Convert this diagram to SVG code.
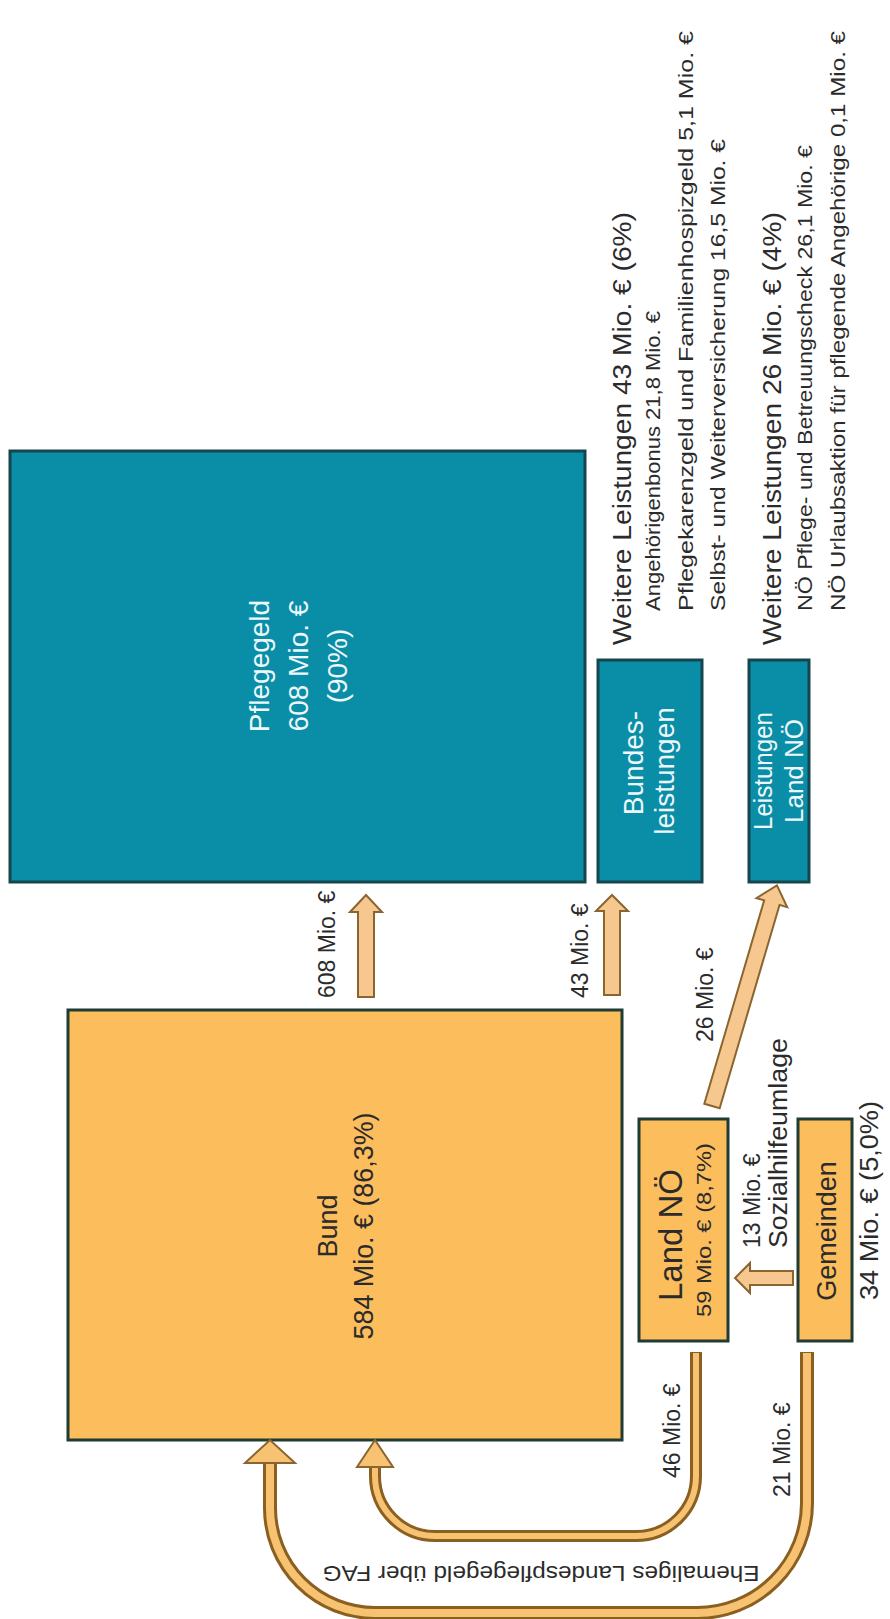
<svg xmlns="http://www.w3.org/2000/svg" width="890" height="1619" viewBox="0 0 890 1619">
<style>
text{font-family:"Liberation Sans",Arial,sans-serif}
.teal{fill:#0a8ea8;stroke:#17454d;stroke-width:3}
.org{fill:#fcbe5d;stroke:#1f3b33;stroke-width:3}
.wt{fill:#eef8fa}
.dk{fill:#2b2b2b}
.arr{fill:#f6c890;stroke:#8a6530;stroke-width:2;stroke-linejoin:miter}
.head{fill:#f7c272;stroke:#8a6530;stroke-width:2}
.tubeO{fill:none;stroke:#8a5f1f}
.tubeI{fill:none;stroke:#f7c272}
</style>
<rect width="890" height="1619" fill="#ffffff"/>

<g id="pflegegeld">
<rect class="teal" x="10" y="451" width="575" height="431"/>
<text class="wt" font-size="28" text-anchor="middle" transform="translate(269,666) rotate(-90)">Pflegegeld</text>
<text class="wt" font-size="28" text-anchor="middle" transform="translate(308,666) rotate(-90)">608 Mio. €</text>
<text class="wt" font-size="28" text-anchor="middle" transform="translate(347,666) rotate(-90)">(90%)</text>
</g>

<g id="bundesleistungen">
<rect class="teal" x="598" y="660" width="104" height="222"/>
<text class="wt" font-size="28" text-anchor="middle" transform="translate(643,763) rotate(-90)">Bundes-</text>
<text class="wt" font-size="28" text-anchor="middle" transform="translate(674,771) rotate(-90)">leistungen</text>
</g>

<g id="leistungen-land">
<rect class="teal" x="749" y="660" width="60" height="222"/>
<text class="wt" font-size="26" text-anchor="middle" transform="translate(772,771) rotate(-90)" textLength="118" lengthAdjust="spacingAndGlyphs">Leistungen</text>
<text class="wt" font-size="26" text-anchor="middle" transform="translate(803,771) rotate(-90)">Land NÖ</text>
</g>

<g id="bund">
<rect class="org" x="68" y="1010" width="554" height="430"/>
<text class="dk" font-size="27" text-anchor="middle" transform="translate(337,1226) rotate(-90)">Bund</text>
<text class="dk" font-size="27" text-anchor="middle" transform="translate(373,1226) rotate(-90)" textLength="227" lengthAdjust="spacingAndGlyphs">584 Mio. € (86,3%)</text>
</g>

<g id="land-noe">
<rect class="org" x="639" y="1119" width="89" height="222"/>
<text class="dk" font-size="33" text-anchor="middle" transform="translate(682,1235) rotate(-90)">Land NÖ</text>
<text class="dk" font-size="21" text-anchor="middle" transform="translate(711,1230) rotate(-90)" textLength="174" lengthAdjust="spacingAndGlyphs">59 Mio. € (8,7%)</text>
</g>

<g id="gemeinden">
<rect class="org" x="798" y="1119" width="54" height="222"/>
<text class="dk" font-size="27" text-anchor="middle" transform="translate(836,1231) rotate(-90)">Gemeinden</text>
</g>

<g id="weitere-bund">
<text class="dk" font-size="26" transform="translate(631,645) rotate(-90)" textLength="433" lengthAdjust="spacingAndGlyphs">Weitere Leistungen 43 Mio.  € (6%)</text>
<text class="dk" font-size="21" transform="translate(660,611) rotate(-90)" textLength="300" lengthAdjust="spacingAndGlyphs">Angehörigenbonus 21,8 Mio. €</text>
<text class="dk" font-size="21" transform="translate(693,611) rotate(-90)" textLength="580" lengthAdjust="spacingAndGlyphs">Pflegekarenzgeld und Familienhospizgeld 5,1 Mio. €</text>
<text class="dk" font-size="21" transform="translate(725,611) rotate(-90)" textLength="472" lengthAdjust="spacingAndGlyphs">Selbst- und Weiterversicherung 16,5 Mio. €</text>
</g>

<g id="weitere-land">
<text class="dk" font-size="26" transform="translate(781,645) rotate(-90)" textLength="433" lengthAdjust="spacingAndGlyphs">Weitere Leistungen 26 Mio.  € (4%)</text>
<text class="dk" font-size="21" transform="translate(812,611) rotate(-90)" textLength="466" lengthAdjust="spacingAndGlyphs">NÖ Pflege- und Betreuungscheck 26,1 Mio. €</text>
<text class="dk" font-size="21" transform="translate(845,611) rotate(-90)" textLength="580" lengthAdjust="spacingAndGlyphs">NÖ Urlaubsaktion für pflegende Angehörige 0,1 Mio. €</text>
</g>

<g id="connectors">
<polygon class="arr" points="358,997 358,912 350,912 366,895 382,912 374,912 374,997"/>
<text class="dk" font-size="23" transform="translate(335,998) rotate(-90)">608 Mio. €</text>

<polygon class="arr" points="604,995 604,911 596,911 612,895 628,911 620,911 620,995"/>
<text class="dk" font-size="23" transform="translate(588,998) rotate(-90)">43 Mio. €</text>

<polygon class="arr" transform="translate(712,1106) rotate(16.4)" points="-8,0 -8,-212 -16,-212 0,-230 16,-212 8,-212 8,0"/>
<text class="dk" font-size="23" transform="translate(713,1042) rotate(-90)">26 Mio. €</text>

<polygon class="arr" points="793,1271 750,1271 750,1263 735,1278 750,1293 750,1285 793,1285"/>
<text class="dk" font-size="23" transform="translate(760,1248) rotate(-90)">13 Mio. €</text>
<text class="dk" font-size="25" transform="translate(787,1248) rotate(-90)" textLength="210" lengthAdjust="spacingAndGlyphs">Sozialhilfeumlage</text>
<text class="dk" font-size="26" transform="translate(878,1300) rotate(-90)" textLength="199" lengthAdjust="spacingAndGlyphs">34 Mio. € (5,0%)</text>

<path class="tubeO" stroke-width="12" d="M696,1352 L696,1476 A60,60 0 0 1 636,1536 L435,1536 A60,60 0 0 1 375,1476 L375,1465"/>
<path class="tubeI" stroke-width="6" d="M696,1353 L696,1476 A60,60 0 0 1 636,1536 L435,1536 A60,60 0 0 1 375,1476 L375,1462"/>
<polygon class="head" points="357,1467 375,1440 393,1467"/>
<text class="dk" font-size="23" transform="translate(680,1478) rotate(-90)">46 Mio. €</text>

<path class="tubeO" stroke-width="14" d="M807,1352 L807,1503 A110,110 0 0 1 697,1613 L375,1613 A105,105 0 0 1 270,1508 L270,1461"/>
<path class="tubeI" stroke-width="8" d="M807,1353 L807,1503 A110,110 0 0 1 697,1613 L375,1613 A105,105 0 0 1 270,1508 L270,1458"/>
<polygon class="head" points="245,1463 270,1440 295,1463"/>
<text class="dk" font-size="23" transform="translate(790,1497) rotate(-90)">21 Mio. €</text>

<text class="dk" font-size="22" text-anchor="middle" transform="translate(541,1566) rotate(180)" textLength="437" lengthAdjust="spacingAndGlyphs">Ehemaliges Landespflegegeld über FAG</text>
</g>
</svg>
